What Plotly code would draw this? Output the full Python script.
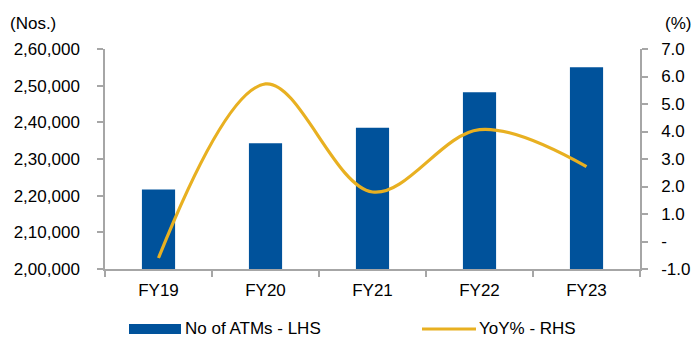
import plotly.graph_objects as go

# Data
years = ["FY19", "FY20", "FY21", "FY22", "FY23"]
atms = [221700, 234300, 238500, 248200, 255000]
yoy_pct = [-0.6, 5.73, 1.8, 4.07, 2.72]

left_ticks = [200000, 210000, 220000, 230000, 240000, 250000, 260000]
left_labels = ["2,00,000", "2,10,000", "2,20,000", "2,30,000", "2,40,000", "2,50,000", "2,60,000"]
right_ticks = [-1, 0, 1, 2, 3, 4, 5, 6, 7]
right_labels = ["-1.0", "-", "1.0", "2.0", "3.0", "4.0", "5.0", "6.0", "7.0"]

BAR_COLOR = "#00529B"
LINE_COLOR = "#E8B021"
AXIS_COLOR = "#A6A6A6"
FONT = "Liberation Sans, Arial, sans-serif"
FS = 17

W, H = 693, 337
ML, MR, MT, MB = 105, 53, 49, 68
PW, PH = W - ML - MR, H - MT - MB


def px_x(x):
    return (x - ML) / PW


def px_y(y):
    return (H - MB - y) / PH


fig = go.Figure()
fig.add_trace(go.Bar(
    x=years, y=atms, name="No of ATMs - LHS",
    marker=dict(color=BAR_COLOR, line=dict(width=0)),
    width=0.31, yaxis="y",
))
fig.add_trace(go.Scatter(
    x=years, y=yoy_pct, name="YoY% - RHS", mode="lines",
    line=dict(color=LINE_COLOR, width=3.2, shape="spline", smoothing=1),
    yaxis="y2",
))

axis_common = dict(
    showgrid=False, zeroline=False, showline=True, linecolor=AXIS_COLOR,
    linewidth=1.5, ticks="outside", tickcolor=AXIS_COLOR, tickwidth=1.5,
    ticklen=6, tickfont=dict(family=FONT, size=FS, color="#000000"),
    automargin=False,
)

fig.update_layout(
    width=W, height=H,
    margin=dict(l=ML, r=MR, t=MT, b=MB),
    paper_bgcolor="white", plot_bgcolor="white",
    showlegend=False,
    xaxis=dict(**axis_common, tickson="boundaries", ticklabelstandoff=5),
    yaxis=dict(**axis_common, range=[200000, 260000], tickvals=left_ticks,
               ticktext=left_labels, ticklabelstandoff=14),
    yaxis2=dict(**axis_common, range=[-1, 7], tickvals=right_ticks,
                ticktext=right_labels, overlaying="y", side="right",
                ticklabelstandoff=10),
    font=dict(family=FONT, size=FS, color="#000000"),
)

# Axis unit labels
fig.add_annotation(text="(Nos.)", xref="paper", yref="paper", x=px_x(9), y=px_y(23),
                   xanchor="left", yanchor="middle", showarrow=False, borderpad=0,
                   font=dict(family=FONT, size=FS, color="#000000"))
fig.add_annotation(text="(%)", xref="paper", yref="paper", x=px_x(692), y=px_y(23),
                   xanchor="right", yanchor="middle", showarrow=False, borderpad=0,
                   font=dict(family=FONT, size=FS, color="#000000"))

# Legend drawn below the axis
leg_y = 328
fig.add_shape(type="rect", xref="paper", yref="paper",
              x0=px_x(129), x1=px_x(181), y0=px_y(324), y1=px_y(334),
              fillcolor=BAR_COLOR, line=dict(width=0))
fig.add_annotation(text="No of ATMs - LHS", xref="paper", yref="paper",
                   x=px_x(184), y=px_y(leg_y), xanchor="left", yanchor="middle",
                   showarrow=False, borderpad=0,
                   font=dict(family=FONT, size=FS, color="#000000"))
fig.add_shape(type="line", xref="paper", yref="paper",
              x0=px_x(422), x1=px_x(476), y0=px_y(329), y1=px_y(329),
              line=dict(color=LINE_COLOR, width=3.2))
fig.add_annotation(text="YoY% - RHS", xref="paper", yref="paper",
                   x=px_x(478), y=px_y(leg_y), xanchor="left", yanchor="middle",
                   showarrow=False, borderpad=0,
                   font=dict(family=FONT, size=FS, color="#000000"))

fig.write_html("out.html")
